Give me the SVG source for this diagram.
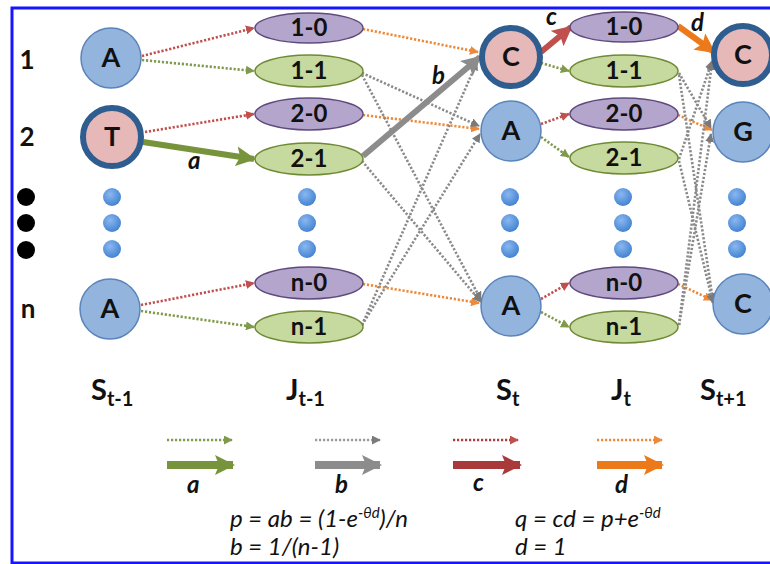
<svg xmlns="http://www.w3.org/2000/svg" width="770" height="564" viewBox="0 0 770 564">
<style>
text{font-family:Lato,"Open Sans","Liberation Sans",sans-serif;fill:#111;}
.lb{font-weight:bold;font-size:27px;text-anchor:middle;}
.el{font-weight:bold;font-size:24px;text-anchor:middle;}
.row{font-weight:bold;font-size:26px;text-anchor:middle;}
.col{font-weight:bold;font-size:29px;}
.sub{font-size:20px;}
.it{font-weight:bold;font-style:italic;font-size:24px;}
.fm{font-style:italic;font-size:24px;}
.sup{font-size:15px;}
.blue{fill:#93b4dc;stroke:#5a84bb;stroke-width:1.5;}
.pink{fill:#e6b8b7;stroke:#2f5d8f;stroke-width:6;}
.pur{fill:#b3a5cc;stroke:#5f4a7e;stroke-width:1.5;}
.grn{fill:#c6d99e;stroke:#6f8a35;stroke-width:1.5;}
.dot{fill:url(#gd);}
.d{fill:none;stroke-width:2.6;stroke-dasharray:2.2 1.8;}
.dr{stroke:#c0504d;marker-end:url(#mr);}
.dg{stroke:#7f9a4a;marker-end:url(#mg);}
.do{stroke:#ec8a3a;marker-end:url(#mo);}
.dk{stroke:#8a8a8a;marker-end:url(#mk);}
.t{fill:none;stroke-width:6;}
</style>
<defs>
<radialGradient id="gd" cx="0.4" cy="0.35" r="0.7">
<stop offset="0" stop-color="#8ab8f0"/>
<stop offset="1" stop-color="#3f7fd0"/>
</radialGradient>
<marker id="mr" viewBox="0 0 10 10" refX="9" refY="5" markerWidth="9" markerHeight="9" markerUnits="userSpaceOnUse" orient="auto"><path d="M0,0 L10,5 L0,10 z" fill="#c0504d"/></marker>
<marker id="mg" viewBox="0 0 10 10" refX="9" refY="5" markerWidth="9" markerHeight="9" markerUnits="userSpaceOnUse" orient="auto"><path d="M0,0 L10,5 L0,10 z" fill="#7f9a4a"/></marker>
<marker id="mo" viewBox="0 0 10 10" refX="9" refY="5" markerWidth="9" markerHeight="9" markerUnits="userSpaceOnUse" orient="auto"><path d="M0,0 L10,5 L0,10 z" fill="#ec8a3a"/></marker>
<marker id="mk" viewBox="0 0 10 10" refX="9" refY="5" markerWidth="9" markerHeight="9" markerUnits="userSpaceOnUse" orient="auto"><path d="M0,0 L10,5 L0,10 z" fill="#7a7a7a"/></marker>
<marker id="Tg" viewBox="0 0 10 10" refX="9" refY="5" markerWidth="20" markerHeight="20" markerUnits="userSpaceOnUse" orient="auto"><path d="M0,0 L10,5 L0,10 L2,5 z" fill="#77933c"/></marker>
<marker id="Tk" viewBox="0 0 10 10" refX="9" refY="5" markerWidth="20" markerHeight="20" markerUnits="userSpaceOnUse" orient="auto"><path d="M0,0 L10,5 L0,10 L2,5 z" fill="#8c8c8c"/></marker>
<marker id="Tr" viewBox="0 0 10 10" refX="9" refY="5" markerWidth="20" markerHeight="20" markerUnits="userSpaceOnUse" orient="auto"><path d="M0,0 L10,5 L0,10 L2,5 z" fill="#c0504d"/></marker>
<marker id="Tr2" viewBox="0 0 10 10" refX="9" refY="5" markerWidth="20" markerHeight="20" markerUnits="userSpaceOnUse" orient="auto"><path d="M0,0 L10,5 L0,10 L2,5 z" fill="#a83a3a"/></marker>
<marker id="To" viewBox="0 0 10 10" refX="9" refY="5" markerWidth="20" markerHeight="20" markerUnits="userSpaceOnUse" orient="auto"><path d="M0,0 L10,5 L0,10 L2,5 z" fill="#ec7a1a"/></marker>
</defs>
<rect x="0" y="0" width="770" height="564" fill="#ffffff"/>
<rect x="12" y="8" width="780" height="555" fill="none" stroke="#1515ff" stroke-width="3"/>

<g id="row-labels">
<text class="row" x="27" y="69">1</text>
<text class="row" x="27" y="146">2</text>
<circle cx="26" cy="197" r="9" fill="#000"/>
<circle cx="26" cy="223" r="9" fill="#000"/>
<circle cx="26" cy="250" r="9" fill="#000"/>
<text class="row" x="28" y="318">n</text>
</g>

<g id="connectors">
<path class="d dr" d="M142,56 L254,28"/>
<path class="d dg" d="M142,60 L254,71"/>
<path class="d dr" d="M145,132 L254,114"/>
<path class="d dr" d="M141,305 L254,283"/>
<path class="d dg" d="M141,311 L254,327"/>
<path class="d do" d="M363,29 L478,52"/>
<path class="d do" d="M363,115 L479,129"/>
<path class="d do" d="M363,284 L479,303"/>
<path class="d dk" d="M362,73 L479,126"/>
<path class="d dk" d="M362,75 L481,300"/>
<path class="d dk" d="M362,161 L481,302"/>
<path class="d dk" d="M362,325 L477,62"/>
<path class="d dk" d="M362,325 L480,134"/>
<path class="d dg" d="M541,63 L569,71"/>
<path class="d dr" d="M541,124 L569,114"/>
<path class="d dg" d="M541,137 L569,157"/>
<path class="d dr" d="M541,299 L569,283"/>
<path class="d dg" d="M541,312 L569,327"/>
<path class="d do" d="M678,115 L712,130"/>
<path class="d do" d="M678,284 L712,300"/>
<path class="d dk" d="M679,73 L711,128"/>
<path class="d dk" d="M679,75 L713,301"/>
<path class="d dk" d="M679,159 L712,61"/>
<path class="d dk" d="M679,161 L713,303"/>
<path class="d dk" d="M679,325 L712,62"/>
<path class="d dk" d="M679,325 L711,134"/>
<path class="t" stroke="#77933c" marker-end="url(#Tg)" d="M143,142 L254,159"/>
<path class="t" stroke="#8c8c8c" marker-end="url(#Tk)" d="M363,156 L480,57"/>
<path class="t" stroke="#c0504d" marker-end="url(#Tr)" d="M541,52 L571,27"/>
<path class="t" stroke="#ec7a1a" marker-end="url(#To)" d="M678,26 L714,52"/>
<text class="it" x="188" y="169">a</text>
<text class="it" x="432" y="84">b</text>
<text class="it" x="546" y="25">c</text>
<text class="it" x="691" y="31">d</text>
</g>

<g id="S_tm1_1"><circle class="blue" cx="111" cy="58" r="30"/><text class="lb" x="111" y="67">A</text></g>
<g id="S_tm1_2"><circle class="pink" cx="112" cy="137" r="29"/><text class="lb" x="112" y="146">T</text></g>
<g id="S_tm1_dots"><circle class="dot" cx="112" cy="197" r="9"/><circle class="dot" cx="112" cy="223" r="9"/><circle class="dot" cx="112" cy="249" r="9"/></g>
<g id="S_tm1_n"><circle class="blue" cx="110" cy="309" r="30"/><text class="lb" x="110" y="318">A</text></g>

<g id="J_tm1_1-0"><ellipse class="pur" cx="309" cy="28" rx="54" ry="15"/><text class="el" x="309" y="36">1-0</text></g>
<g id="J_tm1_1-1"><ellipse class="grn" cx="309" cy="71" rx="54" ry="16"/><text class="el" x="309" y="79">1-1</text></g>
<g id="J_tm1_2-0"><ellipse class="pur" cx="309" cy="114" rx="54" ry="16"/><text class="el" x="309" y="122">2-0</text></g>
<g id="J_tm1_2-1"><ellipse class="grn" cx="309" cy="159" rx="54" ry="16"/><text class="el" x="309" y="167">2-1</text></g>
<g id="J_tm1_dots"><circle class="dot" cx="307" cy="197" r="9"/><circle class="dot" cx="307" cy="223" r="9"/><circle class="dot" cx="307" cy="249" r="9"/></g>
<g id="J_tm1_n-0"><ellipse class="pur" cx="309" cy="283" rx="54" ry="16"/><text class="el" x="309" y="291">n-0</text></g>
<g id="J_tm1_n-1"><ellipse class="grn" cx="309" cy="327" rx="54" ry="16"/><text class="el" x="309" y="335">n-1</text></g>

<g id="S_t_1"><circle class="pink" cx="511" cy="57" r="29"/><text class="lb" x="511" y="66">C</text></g>
<g id="S_t_2"><circle class="blue" cx="511" cy="131" r="30"/><text class="lb" x="511" y="140">A</text></g>
<g id="S_t_dots"><circle class="dot" cx="510" cy="197" r="9"/><circle class="dot" cx="510" cy="223" r="9"/><circle class="dot" cx="510" cy="249" r="9"/></g>
<g id="S_t_n"><circle class="blue" cx="511" cy="306" r="30"/><text class="lb" x="511" y="315">A</text></g>

<g id="J_t_1-0"><ellipse class="pur" cx="624" cy="27" rx="54" ry="15"/><text class="el" x="624" y="35">1-0</text></g>
<g id="J_t_1-1"><ellipse class="grn" cx="624" cy="71" rx="54" ry="16"/><text class="el" x="624" y="79">1-1</text></g>
<g id="J_t_2-0"><ellipse class="pur" cx="624" cy="114" rx="54" ry="16"/><text class="el" x="624" y="122">2-0</text></g>
<g id="J_t_2-1"><ellipse class="grn" cx="624" cy="158" rx="54" ry="16"/><text class="el" x="624" y="166">2-1</text></g>
<g id="J_t_dots"><circle class="dot" cx="623" cy="197" r="9"/><circle class="dot" cx="623" cy="223" r="9"/><circle class="dot" cx="623" cy="249" r="9"/></g>
<g id="J_t_n-0"><ellipse class="pur" cx="624" cy="283" rx="54" ry="16"/><text class="el" x="624" y="291">n-0</text></g>
<g id="J_t_n-1"><ellipse class="grn" cx="624" cy="327" rx="54" ry="16"/><text class="el" x="624" y="335">n-1</text></g>

<g id="S_tp1_1"><circle class="pink" cx="743" cy="55" r="29"/><text class="lb" x="743" y="64">C</text></g>
<g id="S_tp1_2"><circle class="blue" cx="743" cy="132" r="30"/><text class="lb" x="743" y="141">G</text></g>
<g id="S_tp1_dots"><circle class="dot" cx="737" cy="197" r="9"/><circle class="dot" cx="737" cy="223" r="9"/><circle class="dot" cx="737" cy="249" r="9"/></g>
<g id="S_tp1_n"><circle class="blue" cx="743" cy="304" r="30"/><text class="lb" x="743" y="313">C</text></g>

<g id="column-labels">
<text class="col" x="91" y="400">S<tspan class="sub" dy="6">t-1</tspan></text>
<text class="col" x="286" y="400">J<tspan class="sub" dy="6">t-1</tspan></text>
<text class="col" x="496" y="400">S<tspan class="sub" dy="6">t</tspan></text>
<text class="col" x="611" y="400">J<tspan class="sub" dy="6">t</tspan></text>
<text class="col" x="700" y="400">S<tspan class="sub" dy="6">t+1</tspan></text>
</g>

<g id="legend">
<path class="d" stroke="#7f9a4a" marker-end="url(#mg)" d="M167,440 L232,440"/>
<path class="d" stroke="#9a9a9a" marker-end="url(#mk)" d="M315,440 L380,440"/>
<path class="d" stroke="#a8403f" marker-end="url(#mr)" d="M453,440 L518,440"/>
<path class="d" stroke="#ec8a3a" marker-end="url(#mo)" d="M597,440 L662,440"/>
<path stroke="#77933c" stroke-width="8" marker-end="url(#Tg)" d="M167,465 L233,465"/>
<path stroke="#8c8c8c" stroke-width="8" marker-end="url(#Tk)" d="M315,465 L380,465"/>
<path stroke="#a83a3a" stroke-width="8" marker-end="url(#Tr2)" d="M453,465 L520,465"/>
<path stroke="#ec7a1a" stroke-width="8" marker-end="url(#To)" d="M597,465 L662,465"/>
<text class="it" x="187" y="493">a</text>
<text class="it" x="335" y="493">b</text>
<text class="it" x="473" y="491">c</text>
<text class="it" x="615" y="493">d</text>
<text class="fm" x="230" y="527">p = ab = (1-e<tspan class="sup" dy="-9">-θd</tspan><tspan dy="9">)/n</tspan></text>
<text class="fm" x="230" y="555">b = 1/(n-1)</text>
<text class="fm" x="515" y="527">q = cd = p+e<tspan class="sup" dy="-9">-θd</tspan></text>
<text class="fm" x="515" y="555">d = 1</text>
</g>
</svg>
